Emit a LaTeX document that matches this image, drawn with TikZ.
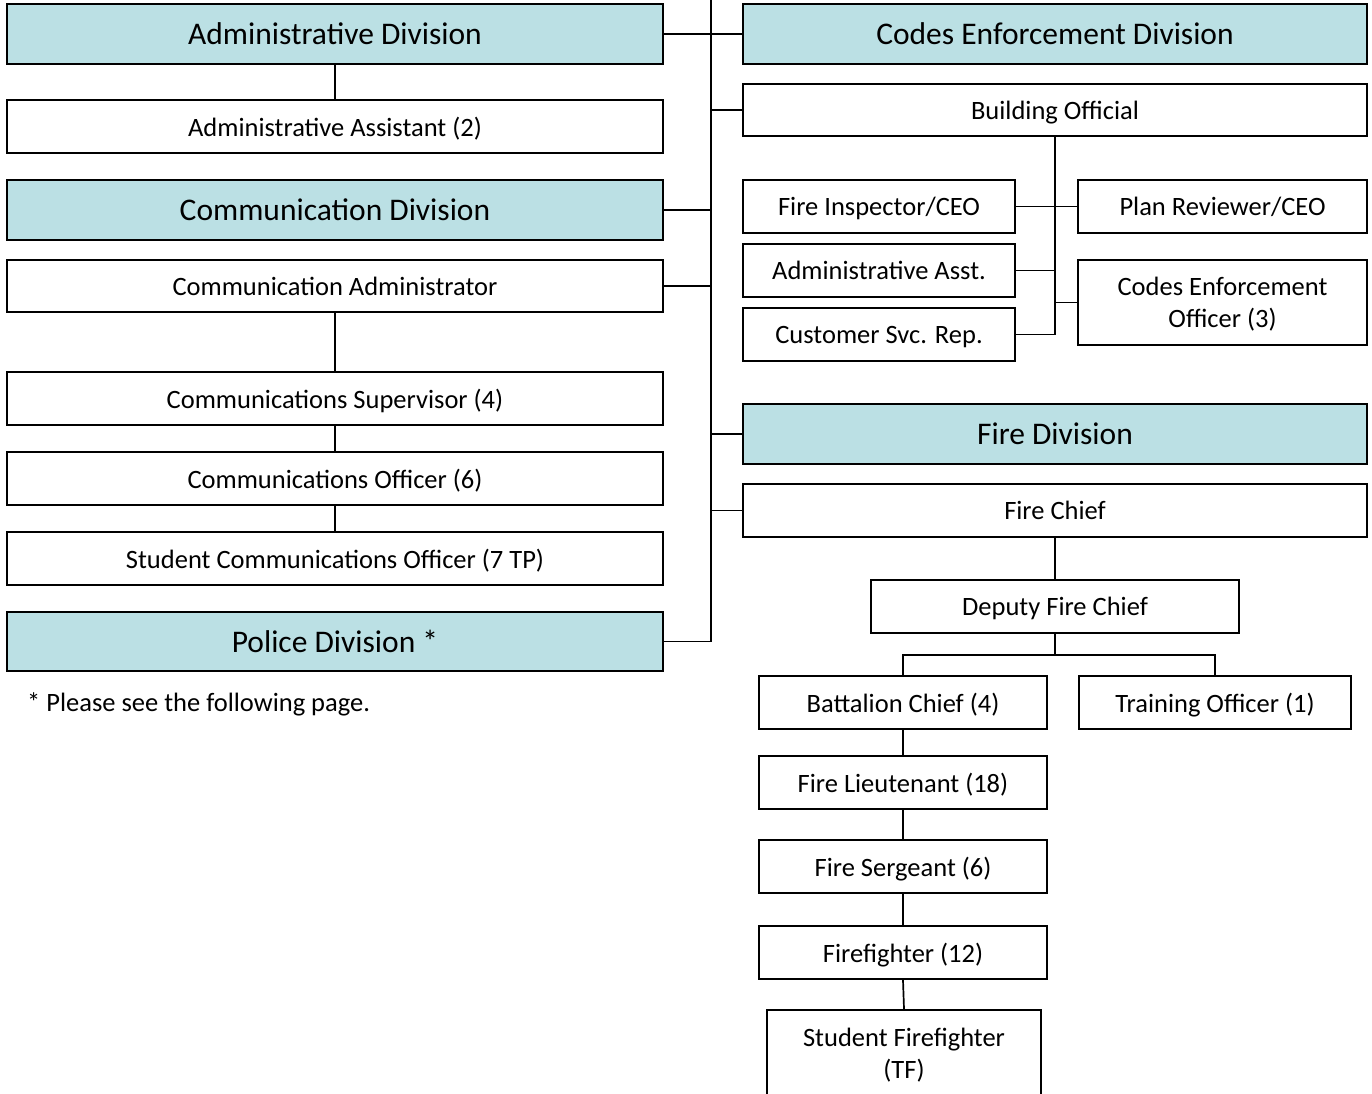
\documentclass[tikz,border=0pt]{standalone}
\usepackage{fontspec}
\setmainfont{Carlito}
\definecolor{cteal}{RGB}{187,224,228}

\begin{document}
\begin{tikzpicture}[x=1pt,y=-1pt,
  unit/.style={draw,line width=2.2pt,fill=white,minimum height=53pt,inner sep=0pt,
    text depth=0pt,align=center,font=\fontsize{26.5}{32}\selectfont},
  division/.style={unit,fill=cteal,minimum height=60pt,font=\fontsize{31.5}{38}\selectfont},
  link/.style={line width=1.7pt}]
\clip (0,0) rectangle (1372,1093);
\fill[white] (0,0) rectangle (1372,1093);
% left column
\node[division,minimum width=656pt] (adm) at (335,34) {Administrative Division};
\node[unit,minimum width=656pt] (admasst) at (335,126.5) {Administrative Assistant (2)};
\node[division,minimum width=656pt] (comm) at (335,210) {Communication Division};
\node[unit,minimum width=656pt,minimum height=52pt] (commadm) at (335,286) {Communication Administrator};
\node[unit,minimum width=656pt] (commsup) at (335,398.5) {Communications Supervisor (4)};
\node[unit,minimum width=656pt] (commoff) at (335,478.5) {Communications Officer (6)};
\node[unit,minimum width=656pt] (studcomm) at (335,558.5) {Student Communications Officer (7 TP)};
\node[division,minimum width=656pt,minimum height=59pt] (police) at (335,641.5) {Police Division *};
\node[anchor=west,inner sep=0pt,font=\fontsize{26.5}{32}\selectfont] (note) at (27,704) {* Please see the following page.};
% codes enforcement
\node[division,minimum width=624pt] (codes) at (1055,34) {Codes Enforcement Division};
\node[unit,minimum width=624pt,minimum height=52pt] (bldg) at (1055,110) {Building Official};
\node[unit,minimum width=272pt] (finsp) at (879,206.5) {Fire Inspector/CEO};
\node[unit,minimum width=289pt] (plan) at (1222.5,206.5) {Plan Reviewer/CEO};
\node[unit,minimum width=272pt] (aasst) at (879,270.5) {Administrative Asst.};
\node[unit,minimum width=289pt,minimum height=85pt] (ceo) at (1222.5,302.5) {Codes Enforcement\\Officer (3)};
\node[unit,minimum width=272pt] (csr) at (879,334.5) {Customer Svc. Rep.};
% fire
\node[division,minimum width=624pt] (firediv) at (1055,434) {Fire Division};
\node[unit,minimum width=624pt] (chief) at (1055,510.5) {Fire Chief};
\node[unit,minimum width=368pt] (deputy) at (1055,606.5) {Deputy Fire Chief};
\node[unit,minimum width=288pt] (batt) at (903,702.5) {Battalion Chief (4)};
\node[unit,minimum width=272pt] (train) at (1215,702.5) {Training Officer (1)};
\node[unit,minimum width=288pt] (lt) at (903,782.5) {Fire Lieutenant (18)};
\node[unit,minimum width=288pt] (sgt) at (903,866.5) {Fire Sergeant (6)};
\node[unit,minimum width=288pt] (ff) at (903,952.5) {Firefighter (12)};
\node[unit,minimum width=274pt,minimum height=86pt] (sff) at (904,1053) {Student Firefighter\\(TF)};

\coordinate (bustop) at (711,-5);
\coordinate (fork) at (1055,655);
% main bus
\draw[link] (bustop) |- (police.east);
\foreach \n in {adm,comm,commadm}
  \draw[link] (\n.east) -- (\n.east -| bustop);
\foreach \n in {codes,bldg,firediv,chief}
  \draw[link] (\n.west) -- (\n.west -| bustop);
% left chains
\draw[link] (adm.south) -- (admasst.north);
\draw[link] (commadm.south) -- (commsup.north);
\draw[link] (commsup.south) -- (commoff.north);
\draw[link] (commoff.south) -- (studcomm.north);
% codes staff
\draw[link] (bldg.south) |- (csr.east);
\draw[link] (finsp.east) -- (plan.west);
\draw[link] (aasst.east) -- (aasst.east -| bldg.south);
\draw[link] (ceo.west) -- (ceo.west -| bldg.south);
% fire chain
\draw[link] (chief.south) -- (deputy.north);
\draw[link] (deputy.south) -- (fork);
\draw[link] (batt.north) |- (fork) -| (train.north);
\draw[link] (batt.south) -- (lt.north);
\draw[link] (lt.south) -- (sgt.north);
\draw[link] (sgt.south) -- (ff.north);
\draw[link] (ff.south) -- (sff.north);
\end{tikzpicture}
\end{document}
